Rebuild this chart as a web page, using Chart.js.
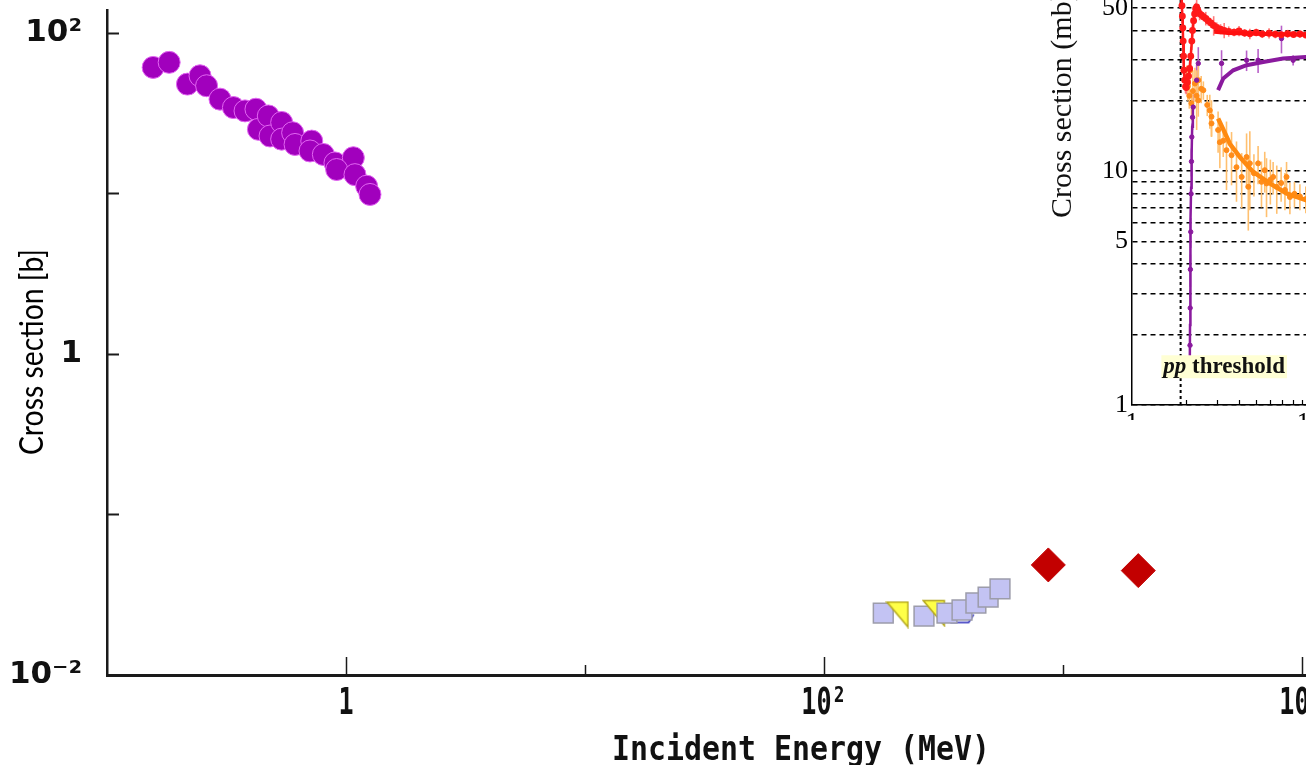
<!DOCTYPE html>
<html lang="en">
<head>
<meta charset="utf-8">
<title>Cross section vs incident energy</title>
<script src="https://cdn.jsdelivr.net/npm/chart.js@4.4.1/dist/chart.umd.min.js"></script>
<style>
  html, body { margin: 0; padding: 0; background: #fff; overflow: hidden; }
  .stage { position: relative; width: 1306px; height: 765px; overflow: hidden; }
  #main { position: absolute; left: 0; top: 0; }
  .inset { position: absolute; left: 1040px; top: -60px; width: 400px; height: 480px; background: #fff; }
</style>
</head>
<body>
<div class="stage">
  <canvas id="main" width="1306" height="765"></canvas>
  <div class="inset"><canvas id="inset" width="400" height="480"></canvas></div>
</div>
<script>
// ---- main plot: cross section [b] vs incident energy [MeV] ----
const circleEnergy = [0.156, 0.182, 0.217, 0.245, 0.261, 0.297, 0.338, 0.378, 0.420, 0.430, 0.473, 0.481, 0.538, 0.538, 0.598, 0.612, 0.719, 0.707, 0.804, 0.899, 1.073, 0.914, 1.09, 1.22, 1.26];
const circleXs = [61.0, 65.6, 48.0, 54.1, 46.9, 38.7, 34.3, 32.7, 33.5, 25.1, 30.4, 22.8, 27.7, 21.8, 23.9, 20.2, 21.2, 18.4, 17.5, 15.5, 16.7, 14.1, 13.1, 11.1, 9.86];

const squareEnergyLow = [177, 262];
const squareXsLow = [0.0243, 0.0233];
const squareEnergyHigh = [327, 378, 432, 486, 545];
const squareXsHigh = [0.0243, 0.0254, 0.0281, 0.0306, 0.0344];

const triEnergy = [203, 288];
const triXs = [0.0238, 0.0243];
const openEnergy = [380];
const openXs = [0.0225];

const diamondEnergy = [868, 2065];
const diamondXs = [0.0485, 0.0447];

const xTickVals = [0.1, 1, 10, 100, 1000, 10000];
const xTickText = { 1: '1', 100: '10²', 10000: '10⁴' };
const yTickVals = [0.01, 0.1, 1, 10, 100];
const yTickText = { 0.01: '10⁻²', 1: '1', 100: '10²' };

// ---- inset: pp cross sections (mb) vs sqrt(s) ----
const totalE = [1.88, 1.89, 1.90, 1.91, 1.92, 1.93, 1.94, 1.95, 1.96, 1.98, 2.00, 2.02, 2.05, 2.08, 2.11, 2.14, 2.17, 2.19, 2.22, 2.25, 2.28, 2.31, 2.35, 2.40, 2.46, 2.52, 2.60, 2.68, 2.78, 2.88, 3.0, 3.15, 3.3, 3.5, 3.75, 4.0, 4.3, 4.6, 5.0, 5.4, 5.9, 6.4, 6.9, 7.5, 8.1, 8.8, 9.5, 10.3];
const totalXs = [70, 62, 56, 51, 46, 41, 36, 31, 27, 24.5, 23, 22.8, 24, 25.5, 27.5, 31, 36, 40, 44, 47, 49.5, 50.4, 48.5, 47.2, 46.5, 45.8, 45, 44, 43, 42, 41.2, 40.5, 40, 39.6, 39.3, 39.8, 39, 38.7, 39.2, 38.6, 38.9, 38.5, 38.3, 38.7, 38.4, 38.6, 38.2, 38.4];
const totalErr = [4, 4, 3, 3, 3, 2, 2, 2, 2, 1.5, 1.5, 1.5, 2, 2, 2, 3, 3, 3, 3, 3, 3, 4, 3, 3, 2, 2, 3, 2, 2, 4, 2, 2, 3, 2, 1.5, 2, 1.5, 2, 1.5, 1.5, 2, 1.5, 1.5, 1.5, 1, 1.5, 1, 1];
const totalFitE = [2.9, 3.5, 4.5, 5.5, 7, 9, 12, 20];
const totalFitXs = [39.5, 39.0, 38.8, 38.6, 38.5, 38.4, 38.4, 38.6];

const inelE = [2.12, 2.125, 2.13, 2.14, 2.15, 2.16, 2.17, 2.19, 2.21, 2.31, 2.36, 3.19, 4.41, 5.12, 6.93, 8.06];
const inelXs = [1.8, 2.6, 3.8, 5.5, 8, 11, 14, 17, 18.8, 24.5, 28.9, 28.9, 29.8, 29.8, 36.9, 29.8];
const inelErr = [0.3, 0.5, 0.6, 0.8, 1, 1.5, 2, 2, 3, 4, 5, 4, 3, 3.5, 5, 1.5];
const inelRiseE = [2.115, 2.12, 2.125, 2.13, 2.14, 2.15, 2.165, 2.18, 2.20];
const inelRiseXs = [1.6, 2.2, 3.0, 4.2, 6.0, 8.5, 12, 15.5, 19];
const inelFitE = [3.05, 3.26, 3.71, 4.41, 5.47, 7.07, 9.5, 14, 25];
const inelFitXs = [22.2, 24.9, 27.0, 28.4, 29.3, 30.3, 30.8, 31.3, 31.8];

const elE = [2.03, 2.06, 2.10, 2.12, 2.16, 2.20, 2.26, 2.31, 2.36, 2.36, 2.45, 2.52, 2.65, 2.74, 2.80, 2.80, 3.05, 3.12, 3.26, 3.40, 3.63, 3.87, 4.14, 4.41, 4.51, 4.60, 4.85, 5.12, 5.35, 5.58, 5.71, 6.0, 6.22, 6.52, 6.9, 7.25, 7.4, 7.73, 8.2, 8.8, 9.5];
const elXs = [25.3, 23, 21, 27.0, 19.5, 22, 23.7, 21, 24.5, 20.1, 22.5, 22.2, 19.2, 18.2, 17.1, 16.0, 15.0, 13.3, 13.5, 12.3, 11.7, 10.4, 9.45, 11.5, 8.57, 10.8, 9.8, 10.8, 9.0, 10.1, 8.86, 9.2, 9.45, 8.57, 8.9, 8.31, 9.45, 7.75, 8.0, 7.8, 7.6];
const elErr = [3, 3, 2.5, 4, 3, 5, 4, 6, 4, 3, 3, 2, 2, 3, 3, 2, 3, 3, 2, 4, 3, 3, 2.5, 3, 3, 4, 2, 2, 2, 2, 2.5, 2, 1.5, 2, 1.5, 1.5, 1.5, 1.2, 1, 1, 1];
const elFitE = [3.05, 3.3, 3.55, 4.04, 4.8, 5.96, 7.4, 9.5, 13, 25];
const elFitXs = [16.8, 14.8, 13.1, 11.5, 9.93, 8.86, 8.03, 7.52, 7.2, 6.9];

const thresholdE = 1.877;
const insetXTicks = [1, 2, 3, 4, 5, 6, 7, 8, 9, 10, 20, 30, 40, 50];
const insetYTicks = [1, 2, 3, 4, 5, 6, 7, 8, 9, 10, 20, 30, 40, 50, 60, 70, 80];
const insetYLabels = [1, 5, 10, 50];
const thresholdLabelAt = { x: 3.3, y: 1.45 };

const pts = (xs, ys) => xs.map((x, i) => ({ x, y: ys[i] }));

function triangleMark(w, h, fill, stroke) {
  const c = document.createElement('canvas');
  c.width = w; c.height = h;
  const g = c.getContext('2d');
  g.beginPath();
  g.moveTo(1.5, 1.5); g.lineTo(w - 1.5, 1.5); g.lineTo(w - 1.5, h - 1.5); g.closePath();
  if (fill) { g.fillStyle = fill; g.fill(); }
  g.strokeStyle = stroke; g.lineWidth = 1.5; g.stroke();
  return c;
}

function openMark() {
  const c = document.createElement('canvas');
  c.width = 26; c.height = 12;
  const g = c.getContext('2d');
  g.beginPath();
  g.moveTo(24, 2); g.lineTo(19, 10); g.lineTo(2, 10); g.lineTo(9, 3);
  g.strokeStyle = '#2323b8'; g.lineWidth = 1.5; g.stroke();
  return c;
}

function drawSqueezed(ctx, text, cx, cy, sx) {
  ctx.save();
  ctx.translate(cx, cy);
  ctx.scale(sx, 1);
  ctx.textAlign = 'center';
  ctx.textBaseline = 'middle';
  ctx.fillText(text, 0, 0);
  ctx.restore();
}

const mainDecor = {
  id: 'mainDecor',
  afterDraw(chart) {
    const { ctx, chartArea, scales: { x, y } } = chart;
    ctx.save();
    ctx.strokeStyle = '#1a1a1a';
    ctx.lineWidth = 2;
    yTickVals.forEach(v => {
      const py = Math.round(y.getPixelForValue(v)) + 0.5;
      ctx.beginPath(); ctx.moveTo(chartArea.left, py); ctx.lineTo(chartArea.left + 12, py); ctx.stroke();
    });
    ctx.lineWidth = 1.5;
    xTickVals.slice(1).forEach(v => {
      const px = Math.round(x.getPixelForValue(v)) + 0.5;
      const len = xTickText[v] ? 18 : 10;
      ctx.beginPath(); ctx.moveTo(px, chartArea.bottom); ctx.lineTo(px, chartArea.bottom - len); ctx.stroke();
    });

    ctx.fillStyle = '#111';
    ctx.font = 'bold 38px "DejaVu Sans Mono"';
    xTickVals.forEach(v => {
      if (xTickText[v]) drawSqueezed(ctx, xTickText[v], x.getPixelForValue(v), 704, 0.66);
    });
    ctx.font = 'bold 34px "DejaVu Sans Mono"';
    const t = 'Incident Energy (MeV)';
    drawSqueezed(ctx, t, 801, 751, 378 / ctx.measureText(t).width);

    ctx.fillStyle = '#000';
    ctx.font = '32px Lato';
    ctx.translate(33, 352);
    ctx.rotate(-Math.PI / 2);
    ctx.textAlign = 'center';
    ctx.textBaseline = 'middle';
    ctx.fillText('Cross section [b]', 0, 0, 206);
    ctx.restore();
  }
};

new Chart(document.getElementById('main'), {
  type: 'scatter',
  data: {
    datasets: [
      { data: pts(squareEnergyHigh, squareXsHigh), pointStyle: 'rect', pointRadius: 14, backgroundColor: '#c3c3f3', borderColor: '#9c9caa', borderWidth: 1.5 },
      { data: pts(triEnergy, triXs), pointStyle: triangleMark(24, 28, '#ffff48', '#b5a81e') },
      { data: pts(openEnergy, openXs), pointStyle: openMark() },
      { data: pts(squareEnergyLow, squareXsLow), pointStyle: 'rect', pointRadius: 14, backgroundColor: '#c3c3f3', borderColor: '#9c9caa', borderWidth: 1.5 },
      { data: pts(diamondEnergy, diamondXs), pointStyle: 'rectRot', pointRadius: 17, backgroundColor: '#c20000', borderColor: '#c20000', borderWidth: 1 },
      { data: pts(circleEnergy, circleXs), pointStyle: 'circle', pointRadius: 11, backgroundColor: '#a100bd', borderColor: '#e266f2', borderWidth: 1 },
    ]
  },
  options: {
    responsive: false,
    animation: false,
    events: [],
    layout: { autoPadding: false, padding: { top: 10, left: 0, right: 0, bottom: 0 } },
    plugins: { legend: { display: false }, tooltip: { enabled: false } },
    scales: {
      x: {
        type: 'logarithmic', min: 0.1, max: 10392,
        afterBuildTicks: s => { s.ticks = xTickVals.map(v => ({ value: v })); },
        afterFit: s => { s.height = 90; s.paddingLeft = 0; s.paddingRight = 0; },
        grid: { drawOnChartArea: false, drawTicks: false },
        border: { display: true, color: '#1a1a1a', width: 3 },
        ticks: { display: false },
      },
      y: {
        type: 'logarithmic', min: 0.01, max: 139,
        afterBuildTicks: s => { s.ticks = yTickVals.map(v => ({ value: v })); },
        afterFit: s => { s.width = 107; s.paddingTop = 0; s.paddingBottom = 0; },
        grid: { drawOnChartArea: false, drawTicks: false },
        border: { display: true, color: '#1a1a1a', width: 2.5 },
        ticks: {
          padding: 25, autoSkip: false, color: '#111',
          font: { family: 'DejaVu Sans', weight: 'bold', size: 31 },
          callback: v => yTickText[v] || '',
        },
      },
    },
  },
  plugins: [mainDecor],
});

// ---- inset chart ----
const errorBars = {
  id: 'errorBars',
  beforeDatasetsDraw(chart) {
    const { ctx, chartArea, scales: { x, y } } = chart;
    ctx.save();
    ctx.beginPath();
    ctx.rect(chartArea.left, chartArea.top, chartArea.right - chartArea.left, chartArea.bottom - chartArea.top);
    ctx.clip();
    chart.data.datasets.forEach(ds => {
      if (!ds.errors) return;
      ctx.strokeStyle = ds.errorColor;
      ctx.lineWidth = 1.6;
      ds.data.forEach((p, i) => {
        const px = x.getPixelForValue(p.x);
        const e = ds.errors[i];
        ctx.beginPath();
        ctx.moveTo(px, y.getPixelForValue(Math.max(p.y - e, 1)));
        ctx.lineTo(px, y.getPixelForValue(p.y + e));
        ctx.stroke();
      });
    });
    ctx.restore();
  }
};

const insetDecor = {
  id: 'insetDecor',
  afterDraw(chart) {
    const { ctx, chartArea, scales: { x, y } } = chart;
    ctx.save();
    ctx.strokeStyle = '#000';
    ctx.lineWidth = 1.2;
    insetXTicks.slice(1).forEach(v => {
      const px = Math.round(x.getPixelForValue(v)) + 0.5;
      ctx.beginPath(); ctx.moveTo(px, chartArea.bottom); ctx.lineTo(px, chartArea.bottom - (v === 10 ? 9 : 5)); ctx.stroke();
    });

    // threshold label
    const cx = x.getPixelForValue(thresholdLabelAt.x);
    const cy = y.getPixelForValue(thresholdLabelAt.y);
    ctx.font = 'italic bold 23px "Liberation Serif"';
    const w1 = ctx.measureText('pp ').width;
    ctx.font = 'bold 23px "Liberation Serif"';
    const w2 = ctx.measureText('threshold').width;
    const left = cx - (w1 + w2) / 2;
    ctx.fillStyle = '#ffffd4';
    ctx.fillRect(left - 2, cy - 12, w1 + w2 + 4, 23);
    ctx.fillStyle = '#111';
    ctx.textBaseline = 'middle';
    ctx.textAlign = 'left';
    ctx.font = 'italic bold 23px "Liberation Serif"';
    ctx.fillText('pp ', left, cy);
    ctx.font = 'bold 23px "Liberation Serif"';
    ctx.fillText('threshold', left + w1, cy);

    // y title
    ctx.font = '30px "Liberation Serif"';
    ctx.translate(23, 278);
    ctx.rotate(-Math.PI / 2);
    ctx.fillText('Cross section (mb)', 0, 0);
    ctx.restore();
  }
};

new Chart(document.getElementById('inset'), {
  type: 'scatter',
  data: {
    datasets: [
      { data: pts(totalFitE, totalFitXs), showLine: true, borderColor: '#ff1010', borderWidth: 4, pointRadius: 0 },
      { data: pts(inelFitE, inelFitXs), showLine: true, borderColor: '#8a1a9e', borderWidth: 4, pointRadius: 0 },
      { data: pts(elFitE, elFitXs), showLine: true, borderColor: '#ff8a10', borderWidth: 4.5, pointRadius: 0 },
      { data: pts(inelRiseE, inelRiseXs), showLine: true, borderColor: '#8a1a9e', borderWidth: 2.5, pointRadius: 0 },
      { data: pts(totalE, totalXs), errors: totalErr, errorColor: '#ff7a7a', showLine: true, borderColor: '#ff1a1a', borderWidth: 2.5, pointRadius: 2.2, backgroundColor: '#ff1a1a' },
      { data: pts(inelE, inelXs), errors: inelErr, errorColor: '#b860c8', pointRadius: 2.2, backgroundColor: '#8a1a9e', borderColor: '#8a1a9e' },
      { data: pts(elE, elXs), errors: elErr, errorColor: '#ffc070', pointRadius: 2.5, backgroundColor: '#ff8c1a', borderColor: '#ff8c1a' },
      { data: [{ x: thresholdE, y: 1 }, { x: thresholdE, y: 80 }], showLine: true, borderColor: '#000', borderWidth: 2, borderDash: [3, 3], pointRadius: 0 },
    ]
  },
  options: {
    responsive: false,
    animation: false,
    events: [],
    layout: { autoPadding: false, padding: { top: 20, left: 0, right: 0, bottom: 0 } },
    plugins: { legend: { display: false }, tooltip: { enabled: false } },
    scales: {
      x: {
        type: 'logarithmic', min: 1, max: 54,
        afterBuildTicks: s => { s.ticks = insetXTicks.map(v => ({ value: v })); },
        afterFit: s => { s.height = 15; s.paddingLeft = 0; s.paddingRight = 0; },
        grid: { drawOnChartArea: false, drawTicks: false },
        border: { display: true, color: '#000', width: 1.5 },
        ticks: {
          padding: 3, autoSkip: false, maxRotation: 0, color: '#000',
          font: { family: 'Liberation Serif', size: 26 },
          callback: v => (v === 1 || v === 10) ? String(v) : '',
        },
      },
      y: {
        type: 'logarithmic', min: 1, max: 80,
        afterBuildTicks: s => { s.ticks = insetYTicks.map(v => ({ value: v })); },
        afterFit: s => { s.width = 92; s.paddingTop = 0; s.paddingBottom = 0; },
        grid: { color: '#000', lineWidth: 1.5, drawTicks: false },
        border: { display: true, color: '#000', width: 1.5, dash: [5, 4] },
        ticks: {
          padding: 4, autoSkip: false, color: '#000',
          font: { family: 'Liberation Serif', size: 26 },
          callback: v => insetYLabels.includes(v) ? String(v) : '',
        },
      },
    },
  },
  plugins: [errorBars, insetDecor],
});
</script>
</body>
</html>
